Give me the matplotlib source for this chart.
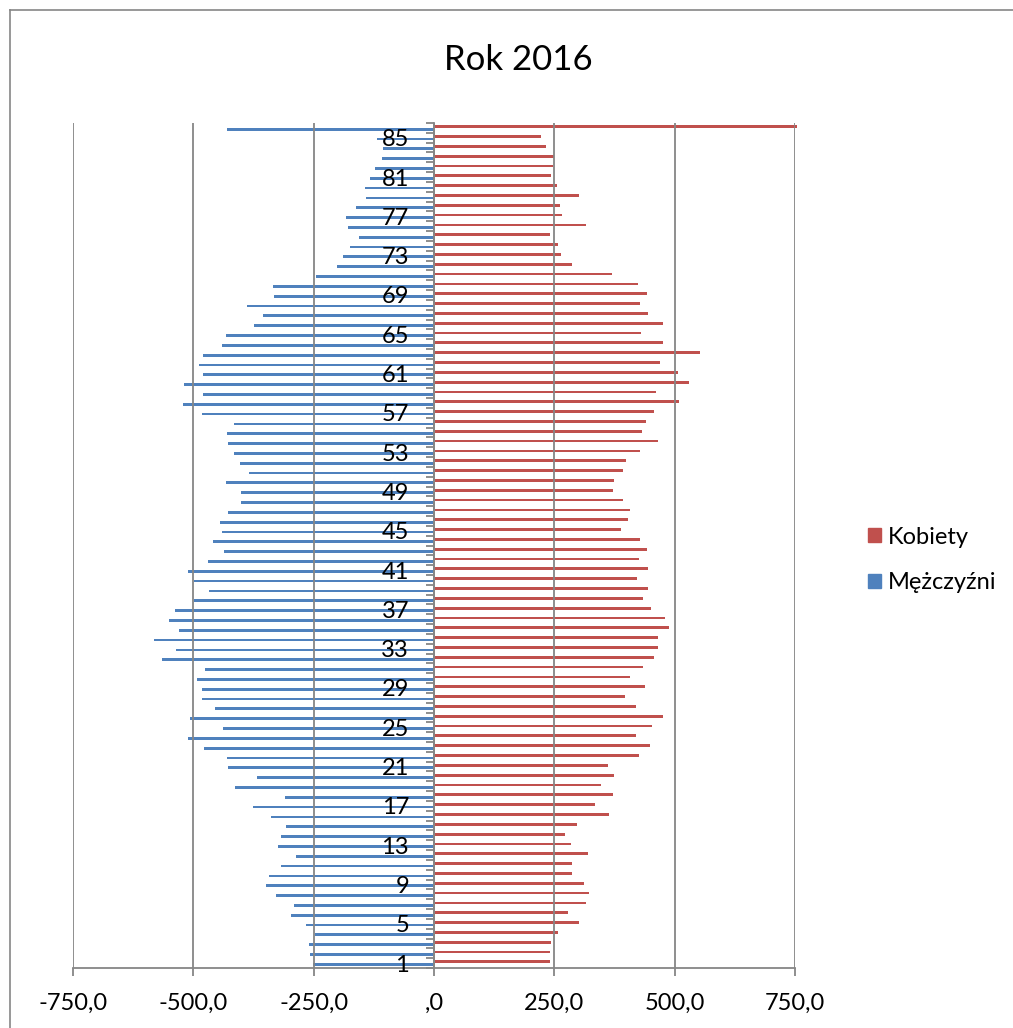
import matplotlib
matplotlib.use('Agg')
import matplotlib.pyplot as plt
from matplotlib.patches import Patch
from matplotlib.lines import Line2D
import numpy as np

plt.rcParams['font.family'] = ['Lato', 'DejaVu Sans']

# age groups 1..86 (bottom to top)
ages = np.arange(1, 87)
label_ages = list(range(1, 86, 4))

men = [-252, -257, -260, -247, -265, -298, -290, -329, -348, -342,
       -317, -287, -325, -317, -307, -338, -376, -310, -413, -367,
       -428, -430, -478, -512, -438, -506, -454, -483, -481, -492,
       -476, -566, -535, -581, -529, -550, -538, -498, -468, -498,
       -512, -470, -436, -460, -440, -445, -429, -401, -400, -433,
       -385, -404, -416, -429, -431, -415, -483, -522, -479, -520,
       -479, -488, -479, -440, -433, -374, -356, -389, -333, -335,
       -245, -202, -190, -175, -155, -179, -183, -162, -141, -144,
       -133, -123, -108, -105, -119, -430]

women = [241, 241, 243, 258, 301, 278, 315, 321, 312, 287,
         287, 319, 285, 272, 297, 364, 335, 371, 347, 373,
         362, 425, 449, 420, 452, 475, 420, 397, 438, 407,
         434, 457, 465, 465, 488, 480, 451, 434, 445, 422,
         445, 426, 443, 428, 388, 404, 407, 393, 371, 373,
         393, 399, 428, 465, 432, 440, 457, 509, 461, 530,
         507, 470, 553, 476, 430, 476, 445, 428, 443, 424,
         369, 287, 263, 258, 241, 315, 266, 262, 301, 256,
         244, 247, 249, 233, 222, 754]

xticks = [-750, -500, -250, 0, 250, 500, 750]
xtick_labels = ['-750,0', '-500,0', '-250,0', ',0', '250,0', '500,0', '750,0']

blue = '#4F81BD'
red = '#C0504D'
gray = '#868686'

W, H = 1013, 1028
fig = plt.figure(figsize=(W / 100, H / 100), dpi=100)
ax = fig.add_axes([73 / W, 1 - 968 / H, (795 - 73) / W, (968 - 123) / H])

# gridlines and age labels sit on top of the bars, as in the original
bh = 0.28
ax.barh(ages - 0.125, men, height=bh, color=blue, clip_on=False, zorder=2)
ax.barh(ages + 0.125, women, height=bh, color=red, clip_on=False, zorder=2)

ax.set_xlim(-750, 750)
ax.set_ylim(0.5, 86.5)

# axes styling
for s in ['top', 'right']:
    ax.spines[s].set_visible(False)
ax.spines['left'].set_position(('data', 0))
ax.spines['left'].set_color(gray)
ax.spines['left'].set_linewidth(1.3)
ax.spines['bottom'].set_color(gray)
ax.spines['bottom'].set_linewidth(1.3)

ax.set_xticks(xticks)
ax.set_xticklabels(xtick_labels)
ax.tick_params(axis='x', direction='out', length=6, width=1.3, color=gray,
               labelsize=17, pad=12)
ax.xaxis.grid(True, color=gray, linewidth=1.3)
ax.set_axisbelow(False)

ax.set_yticks(label_ages)
ax.set_yticklabels([str(a) for a in label_ages])
ax.set_yticks(np.arange(0.5, 87, 1.0), minor=True)
ax.tick_params(axis='y', which='major', length=0, labelsize=17, pad=18)
ax.tick_params(axis='y', which='minor', direction='out', length=6,
               width=1.3, color=gray)

# title
fig.text(518 / W, 1 - 60 / H, 'Rok 2016', ha='center', va='center',
         fontsize=25)

# legend
handles = [Patch(color=red, label='Kobiety'),
           Patch(color=blue, label='Mężczyźni')]
fig.legend(handles=handles, loc='center left',
           bbox_to_anchor=(847 / W, 1 - 560 / H), frameon=False,
           fontsize=17, handlelength=0.55, handleheight=0.55,
           handletextpad=0.3, labelspacing=1.05)

# chart area border (partly outside the picture)
x0 = 10 / W
y1 = 1 - 10 / H
fig.add_artist(Line2D([x0, x0], [0, y1], color=gray, lw=1.2,
                      transform=fig.transFigure))
fig.add_artist(Line2D([x0, 1], [y1, y1], color=gray, lw=1.2,
                      transform=fig.transFigure))

fig.savefig('out.png', dpi=100)
